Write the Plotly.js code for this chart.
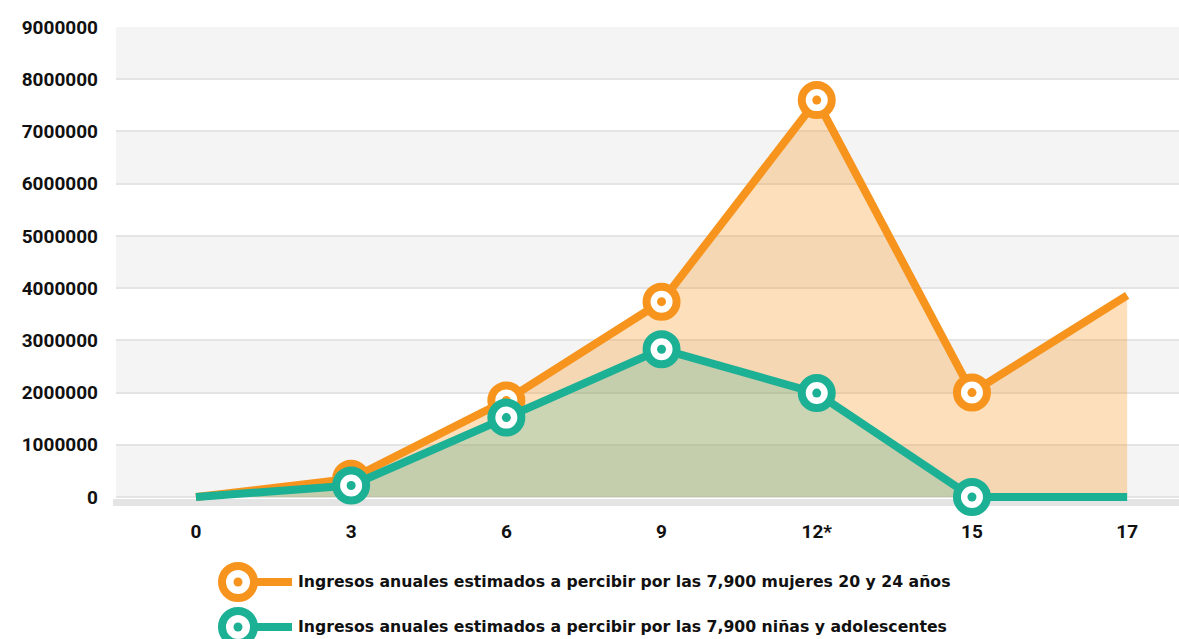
<!DOCTYPE html>
<html>
<head>
<meta charset="utf-8">
<script src="https://cdn.plot.ly/plotly-3.0.1.min.js"></script>
<style>html,body{margin:0;padding:0;background:#fff;}#chart{width:1179px;height:639px;}</style>
</head>
<body>
<div id="chart"></div>
<script>
// ---- data ----
const categories = ['0', '3', '6', '9', '12*', '15', '17'];
const mujeres = [0, 350000, 1850000, 3740000, 7600000, 2000000, 3860000];
const ninas = [0, 220000, 1520000, 2830000, 1990000, 0, 0];
const yTicks = [0, 1000000, 2000000, 3000000, 4000000, 5000000, 6000000, 7000000, 8000000, 9000000];
const legendLabels = [
  'Ingresos anuales estimados a percibir por las 7,900 mujeres 20 y 24 años',
  'Ingresos anuales estimados a percibir por las 7,900 niñas y adolescentes'
];

// ---- styles ----
const ORANGE = '#f7941d';
const TEAL = '#1cb094';
const FONT = 'Roboto, "DejaVu Sans", sans-serif';
const LFONT = '"DejaVu Sans", Roboto, sans-serif';

const W = 1179, H = 639, ML = 116, MR = 0, MT = 27, MB = 133;
const PW = W - ML - MR, PH = H - MT - MB;
const px2x = px => (px - ML) / PW;
const py2y = py => (H - MB - py) / PH;

function lineTrace(y, color, fill, name) {
  return {
    type: 'scatter', mode: 'lines', x: categories, y: y, name: name,
    line: {color: color, width: 8, shape: 'linear'},
    fill: 'tozeroy', fillcolor: fill, hoverinfo: 'skip', showlegend: false
  };
}
function markerTraces(xs, ys, color) {
  return [{
    type: 'scatter', mode: 'markers', x: xs, y: ys, cliponaxis: false,
    marker: {symbol: 'circle', size: 30, color: '#ffffff', line: {color: color, width: 8}},
    hoverinfo: 'skip', showlegend: false
  }, {
    type: 'scatter', mode: 'markers', x: xs, y: ys, cliponaxis: false,
    marker: {symbol: 'circle', size: 9, color: color, line: {width: 0}},
    hoverinfo: 'skip', showlegend: false
  }];
}

const traces = [
  lineTrace(mujeres, ORANGE, 'rgba(247,148,29,0.30)', legendLabels[0]),
  ...markerTraces(categories.slice(1, 6), mujeres.slice(1, 6), ORANGE),
  lineTrace(ninas, TEAL, 'rgba(28,176,148,0.22)', legendLabels[1]),
  ...markerTraces(categories.slice(1, 6), ninas.slice(1, 6), TEAL)
];

const shapes = [];
// alternating bands
for (let k = 0; k < yTicks.length - 1; k += 2) {
  shapes.push({type: 'rect', xref: 'paper', yref: 'y', x0: 0, x1: 1, y0: yTicks[k], y1: yTicks[k + 1],
    fillcolor: '#f4f4f4', line: {width: 0}, layer: 'below'});
}
// gray baseline bar
shapes.push({type: 'rect', xref: 'paper', yref: 'paper', x0: px2x(113), x1: 1, y0: 0, y1: py2y(499),
  fillcolor: '#e4e4e4', line: {width: 0}, layer: 'between'});

// custom legend
const annotations = [];
const legendRows = [581, 626];
const legendColors = [ORANGE, TEAL];
legendRows.forEach((py, i) => {
  const ax = px2x(238), ay = py2y(py + 1);
  shapes.push({type: 'line', xref: 'paper', yref: 'paper', xsizemode: 'pixel', ysizemode: 'pixel',
    xanchor: ax, yanchor: ay, x0: 18, x1: 54, y0: 0, y1: 0, line: {color: legendColors[i], width: 8}});
  shapes.push({type: 'circle', xref: 'paper', yref: 'paper', xsizemode: 'pixel', ysizemode: 'pixel',
    xanchor: ax, yanchor: ay, x0: -16, x1: 16, y0: -16, y1: 16, fillcolor: '#ffffff', line: {color: legendColors[i], width: 8}});
  shapes.push({type: 'circle', xref: 'paper', yref: 'paper', xsizemode: 'pixel', ysizemode: 'pixel',
    xanchor: ax, yanchor: ay, x0: -4.5, x1: 4.5, y0: -4.5, y1: 4.5, fillcolor: legendColors[i], line: {width: 0}});
  annotations.push({xref: 'paper', yref: 'paper', x: px2x(296), y: py2y(py), xanchor: 'left', yanchor: 'middle',
    text: legendLabels[i], showarrow: false, font: {family: LFONT, size: 15.7, color: '#111', weight: 'bold'}});
});

const layout = {
  width: W, height: H,
  margin: {l: ML, r: MR, t: MT, b: MB, pad: 0},
  paper_bgcolor: '#ffffff', plot_bgcolor: '#ffffff',
  showlegend: false,
  xaxis: {
    type: 'category', range: [-0.515, 6.334], showgrid: false, zeroline: false, showline: false,
    ticks: '', ticklabelstandoff: 12,
    tickfont: {family: FONT, size: 19, color: '#111', weight: 'bold'}, fixedrange: true
  },
  yaxis: {
    range: [-(506 - 497) / 470 * 9000000, 9000000], tickvals: yTicks, ticktext: yTicks.map(String),
    showgrid: true, gridcolor: '#e4e4e4', gridwidth: 2, zeroline: false, showline: false,
    ticks: '', ticklabelstandoff: 17,
    tickfont: {family: FONT, size: 19, color: '#111', weight: 'bold'}, fixedrange: true
  },
  shapes: shapes,
  annotations: annotations
};

Plotly.newPlot('chart', traces, layout, {displayModeBar: false, staticPlot: true});
</script>
</body>
</html>
